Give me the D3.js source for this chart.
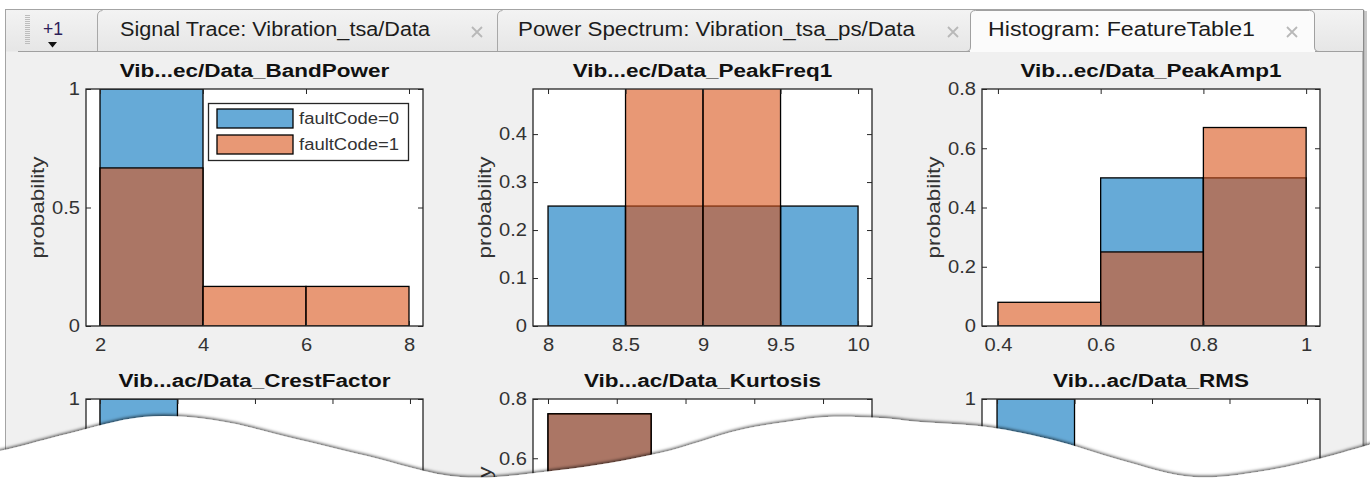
<!DOCTYPE html>
<html><head><meta charset="utf-8">
<script src="https://cdn.jsdelivr.net/npm/d3@7"></script>
<style>html,body{margin:0;padding:0;background:#fff;} svg{display:block;}</style>
</head><body><svg id="c" width="1370" height="481"></svg>
<script>
// ---------------- data ----------------
const tabLabels = ["Signal Trace: Vibration_tsa/Data", "Power Spectrum: Vibration_tsa_ps/Data", "Histogram: FeatureTable1"];
const overflowLabel = "+1";
const seriesNames = ["faultCode=0", "faultCode=1"];
const yAxisLabel = "probability";
const panelTitles = ["Vib...ec/Data_BandPower", "Vib...ec/Data_PeakFreq1", "Vib...ec/Data_PeakAmp1",
                     "Vib...ac/Data_CrestFactor", "Vib...ac/Data_Kurtosis", "Vib...ac/Data_RMS"];

const bandPowerEdges = [2, 4, 6, 8];
const bandPowerFault0 = [1, 0, 0];
const bandPowerFault1 = [0.667, 0.167, 0.167];
const bandPowerXLim = [1.728, 8.272];
const bandPowerXTicks = [2, 4, 6, 8];
const bandPowerYLim = [0, 1];
const bandPowerYTicks = [0, 0.5, 1];

const peakFreqEdges = [8, 8.5, 9, 9.5, 10];
const peakFreqFault0 = [0.25, 0.25, 0.25, 0.25];
const peakFreqFault1 = [0, 0.5, 0.5, 0];
const peakFreqXLim = [7.903, 10.09];
const peakFreqXTicks = [8, 8.5, 9, 9.5, 10];
const peakFreqYLim = [0, 0.494];
const peakFreqYTicks = [0, 0.1, 0.2, 0.3, 0.4];

const peakAmpEdges = [0.4, 0.6, 0.8, 1.0];
const peakAmpFault0 = [0, 0.5, 0.5];
const peakAmpFault1 = [0.08, 0.25, 0.67];
const peakAmpXLim = [0.369, 1.027];
const peakAmpXTicks = [0.4, 0.6, 0.8, 1];
const peakAmpYLim = [0, 0.8];
const peakAmpYTicks = [0, 0.2, 0.4, 0.6, 0.8];

const crestEdges = [2, 2.5];
const crestFault0 = [1];
const crestFault1 = [0];
const crestXLim = [1.91, 4.084];
const crestXTicks = [2, 2.5, 3, 3.5, 4];
const crestYLim = [0, 1];
const crestYTicks = [0, 0.5, 1];

const kurtEdges = [2, 2.75];
const kurtFault0 = [0.75];
const kurtFault1 = [0.75];
const kurtXLim = [1.891, 4.356];
const kurtXTicks = [2, 2.5, 3, 3.5, 4];
const kurtYLim = [0, 0.8];
const kurtYTicks = [0, 0.2, 0.4, 0.6, 0.8];

const rmsEdges = [1, 1.5];
const rmsFault0 = [1];
const rmsFault1 = [0];
const rmsXLim = [0.903, 3.084];
const rmsXTicks = [1, 1.5, 2, 2.5, 3];
const rmsYLim = [0, 1];
const rmsYTicks = [0, 0.5, 1];

const panels = [
  {title: panelTitles[0], edges: bandPowerEdges, f0: bandPowerFault0, f1: bandPowerFault1, xLim: bandPowerXLim, xTicks: bandPowerXTicks, yLim: bandPowerYLim, yTicks: bandPowerYTicks, legend: true},
  {title: panelTitles[1], edges: peakFreqEdges, f0: peakFreqFault0, f1: peakFreqFault1, xLim: peakFreqXLim, xTicks: peakFreqXTicks, yLim: peakFreqYLim, yTicks: peakFreqYTicks},
  {title: panelTitles[2], edges: peakAmpEdges, f0: peakAmpFault0, f1: peakAmpFault1, xLim: peakAmpXLim, xTicks: peakAmpXTicks, yLim: peakAmpYLim, yTicks: peakAmpYTicks},
  {title: panelTitles[3], edges: crestEdges, f0: crestFault0, f1: crestFault1, xLim: crestXLim, xTicks: crestXTicks, yLim: crestYLim, yTicks: crestYTicks},
  {title: panelTitles[4], edges: kurtEdges, f0: kurtFault0, f1: kurtFault1, xLim: kurtXLim, xTicks: kurtXTicks, yLim: kurtYLim, yTicks: kurtYTicks},
  {title: panelTitles[5], edges: rmsEdges, f0: rmsFault0, f1: rmsFault1, xLim: rmsXLim, xTicks: rmsXTicks, yLim: rmsYLim, yTicks: rmsYTicks}
];

// ---------------- layout / style ----------------
const W = 1370, H = 481;
const FONT = "'Liberation Sans', Arial, Helvetica, sans-serif";
const colX = [[86, 423], [533, 872], [982, 1320]];
const rowY = [89, 399];
const boxH = 237;
const C0 = "rgb(0,114,189)", C1 = "rgb(217,83,25)";
const AX = "#262626", TXT = "#333";

const svg = d3.select("#c");
const defs = svg.append("defs");

function stretch(sel, k) {
  sel.each(function () {
    const L = this.getComputedTextLength();
    if (L > 0) { this.setAttribute("textLength", (L * k).toFixed(1)); this.setAttribute("lengthAdjust", "spacingAndGlyphs"); }
  });
}
function fitTo(sel, L) { sel.attr("textLength", L).attr("lengthAdjust", "spacingAndGlyphs"); }

// ---------------- window chrome ----------------
svg.append("rect").attr("x", 0).attr("y", 0).attr("width", W).attr("height", H).attr("fill", "#fff");
svg.append("rect").attr("x", 1363).attr("y", 11).attr("width", 4).attr("height", 460).attr("fill", "#c8c8c8");
svg.append("rect").attr("x", 5.5).attr("y", 9.5).attr("width", 1357.5).attr("height", 480)
  .attr("fill", "#f0f0f0").attr("stroke", "#a4a4a4").attr("stroke-width", 1);
svg.append("line").attr("x1", 1363.5).attr("x2", 1363.5).attr("y1", 10).attr("y2", 470).attr("stroke", "#8a8a8a").attr("stroke-width", 1.5);

const grad = defs.append("linearGradient").attr("id", "tabg").attr("x1", 0).attr("x2", 0).attr("y1", 0).attr("y2", 1);
grad.append("stop").attr("offset", 0).attr("stop-color", "#f3f3f3");
grad.append("stop").attr("offset", 1).attr("stop-color", "#e6e6e6");
svg.append("rect").attr("x", 6).attr("y", 10).attr("width", 1357).attr("height", 41.5).attr("fill", "url(#tabg)");

for (let gy = 15; gy <= 43; gy += 2) {
  svg.append("line").attr("x1", 25).attr("x2", 30).attr("y1", gy + 0.5).attr("y2", gy + 0.5).attr("stroke", "#bdbdbd").attr("stroke-width", 1);
}
const ov = svg.append("text").attr("x", 43).attr("y", 35).attr("font-family", FONT).attr("font-size", 19)
  .attr("fill", "#2e2058").text(overflowLabel);
fitTo(ov, 20);
svg.append("path").attr("d", "M48,42 L57,42 L52.5,47.5 Z").attr("fill", "#111");

const tabEdges = [97, 497, 970, 1315];
svg.append("path").attr("d", `M${tabEdges[2]},52 L${tabEdges[2]},15 Q${tabEdges[2]},10.5 ${tabEdges[2] + 5},10.5 L${tabEdges[3] - 5},10.5 Q${tabEdges[3]},10.5 ${tabEdges[3]},15 L${tabEdges[3]},52 Z`)
  .attr("fill", "#fbfbfb");
svg.append("line").attr("x1", 18).attr("x2", tabEdges[2]).attr("y1", 51.5).attr("y2", 51.5).attr("stroke", "#a0a0a0");
svg.append("line").attr("x1", tabEdges[3]).attr("x2", 1363).attr("y1", 51.5).attr("y2", 51.5).attr("stroke", "#a0a0a0");
[tabEdges[0], tabEdges[1]].forEach(x => {
  svg.append("path").attr("d", `M${x + 0.5},51 L${x + 0.5},16 Q${x + 0.5},11 ${x + 5.5},10.5`).attr("fill", "none").attr("stroke", "#a8a8a8");
});
svg.append("path").attr("d", `M${tabEdges[2] - 4},51.5 Q${tabEdges[2] + 0.5},51.5 ${tabEdges[2] + 0.5},47 L${tabEdges[2] + 0.5},15 Q${tabEdges[2] + 0.5},10.5 ${tabEdges[2] + 5.5},10.5 L${tabEdges[3] - 5.5},10.5 Q${tabEdges[3] - 0.5},10.5 ${tabEdges[3] - 0.5},15 L${tabEdges[3] - 0.5},47 Q${tabEdges[3] - 0.5},51.5 ${tabEdges[3] + 4},51.5`)
  .attr("fill", "none").attr("stroke", "#a0a0a0");

const tabTextX = [120, 518, 988];
const tabTextLen = [310, 397, 267];
tabLabels.forEach((t, i) => {
  const tt = svg.append("text").attr("x", tabTextX[i]).attr("y", 35.5).attr("font-family", FONT).attr("font-size", 20)
    .attr("fill", "#1c1c1c").text(t);
  fitTo(tt, tabTextLen[i]);
});
[477, 953, 1292].forEach(cx => {
  const cy = 32, r = 5;
  svg.append("path").attr("d", `M${cx - r},${cy - r} L${cx + r},${cy + r} M${cx - r},${cy + r} L${cx + r},${cy - r}`)
    .attr("stroke", "#b8b8b8").attr("stroke-width", 1.8).attr("fill", "none");
});

// ---------------- histogram panels ----------------
panels.forEach((p, idx) => {
  const col = idx % 3, row = Math.floor(idx / 3);
  const [x0, x1] = colX[col];
  const top = rowY[row], bot = top + boxH;
  const x = d3.scaleLinear().domain(p.xLim).range([x0, x1]);
  const y = d3.scaleLinear().domain(p.yLim).range([bot, top]);
  const g = svg.append("g");

  g.append("rect").attr("x", x0).attr("y", top).attr("width", x1 - x0).attr("height", bot - top).attr("fill", "#fff");

  const clipId = "clip" + idx;
  defs.append("clipPath").attr("id", clipId).append("rect").attr("x", x0).attr("y", top).attr("width", x1 - x0).attr("height", bot - top);
  const bars = g.append("g").attr("clip-path", `url(#${clipId})`);
  [[p.f0, C0], [p.f1, C1]].forEach(([vals, col]) => {
    const bins = vals.map((v, i) => ({a: p.edges[i], b: p.edges[i + 1], v})).filter(d => d.v > 0);
    bars.selectAll(null).data(bins).enter().append("rect")
      .attr("x", d => x(d.a)).attr("width", d => x(d.b) - x(d.a))
      .attr("y", d => y(d.v)).attr("height", d => y(p.yLim[0]) - y(d.v))
      .attr("fill", col).attr("fill-opacity", 0.6)
      .attr("stroke", "#000").attr("stroke-width", 1.3);
  });

  const tf = d3.format("~g");
  const styleAxis = s => {
    s.select(".domain").remove();
    s.selectAll(".tick line").attr("stroke", AX).attr("stroke-width", 1);
    s.selectAll("text").attr("font-family", FONT).attr("font-size", 18).attr("fill", TXT);
  };
  // labels that would fall outside the page (under the torn edge) are not drawn
  const xLabelsVisible = bot + 30 < H;
  const xa = g.append("g").attr("transform", `translate(0,${bot})`)
    .call(d3.axisBottom(x).tickValues(p.xTicks).tickFormat(xLabelsVisible ? tf : "").tickSizeInner(-5).tickSizeOuter(0).tickPadding(12));
  styleAxis(xa); stretch(xa.selectAll("text"), 1.12);
  const xt = g.append("g").attr("transform", `translate(0,${top})`)
    .call(d3.axisTop(x).tickValues(p.xTicks).tickFormat("").tickSizeInner(-5).tickSizeOuter(0));
  styleAxis(xt);
  const ya = g.append("g").attr("transform", `translate(${x0},0)`)
    .call(d3.axisLeft(y).tickValues(p.yTicks).tickFormat(d => (y(d) + 8 < H ? tf(d) : "")).tickSizeInner(-5).tickSizeOuter(0).tickPadding(6));
  styleAxis(ya); stretch(ya.selectAll("text"), 1.12);
  const yr = g.append("g").attr("transform", `translate(${x1},0)`)
    .call(d3.axisRight(y).tickValues(p.yTicks).tickFormat("").tickSizeInner(-5).tickSizeOuter(0));
  styleAxis(yr);

  g.append("rect").attr("x", x0).attr("y", top).attr("width", x1 - x0).attr("height", bot - top)
    .attr("fill", "none").attr("stroke", AX).attr("stroke-width", 1.3);

  const tt = g.append("text").attr("x", (x0 + x1) / 2).attr("y", top - 12).attr("text-anchor", "middle")
    .attr("font-family", FONT).attr("font-size", 18).attr("font-weight", "bold").attr("fill", "#111").text(p.title);
  stretch(tt, 1.25);

  const yl = g.append("text").attr("transform", `translate(${x0 - 42},${(top + bot) / 2}) rotate(-90)`)
    .attr("text-anchor", "middle").attr("font-family", FONT).attr("font-size", 18).attr("fill", TXT).text(yAxisLabel);
  fitTo(yl, 102);

  if (p.legend) {
    const lx = 208, ly = 103, lw = 200, lh = 57;
    const lg = g.append("g");
    lg.append("rect").attr("x", lx + 0.5).attr("y", ly + 0.5).attr("width", lw).attr("height", lh)
      .attr("fill", "#fff").attr("stroke", AX).attr("stroke-width", 1.3);
    seriesNames.forEach((nm, i) => {
      const ey = ly + 6 + i * 26;
      lg.append("rect").attr("x", lx + 9).attr("y", ey).attr("width", 76).attr("height", 19)
        .attr("fill", i === 0 ? C0 : C1).attr("fill-opacity", 0.6).attr("stroke", "#000").attr("stroke-width", 1.3);
      const t = lg.append("text").attr("x", lx + 91).attr("y", ey + 9.5).attr("dy", "0.35em")
        .attr("font-family", FONT).attr("font-size", 16).attr("fill", TXT).text(nm);
      fitTo(t, 100);
    });
  }
});

// ---------------- torn paper edge ----------------
const tearPts = [[-5, 452], [13, 448], [67, 434], [143, 417], [213, 420], [300, 440], [367, 456], [460, 477],
  [560, 470], [660, 453], [740, 430], [793, 421], [827, 417], [880, 418], [920, 422], [987, 427], [1053, 440],
  [1120, 460], [1193, 477], [1270, 470], [1330, 456], [1375, 443]];
const tearLine = d3.line().curve(d3.curveCatmullRom.alpha(0.5));
const shadow = defs.append("filter").attr("id", "sh").attr("x", "-5%").attr("y", "-50%").attr("width", "110%").attr("height", "200%");
shadow.append("feDropShadow").attr("dx", 0).attr("dy", -1.5).attr("stdDeviation", 1.6).attr("flood-color", "#000").attr("flood-opacity", 0.65);
svg.append("path").attr("d", tearLine(tearPts) + ` L1375,${H + 20} L-5,${H + 20} Z`)
  .attr("fill", "#fff").attr("filter", "url(#sh)");
</script>
</body></html>
